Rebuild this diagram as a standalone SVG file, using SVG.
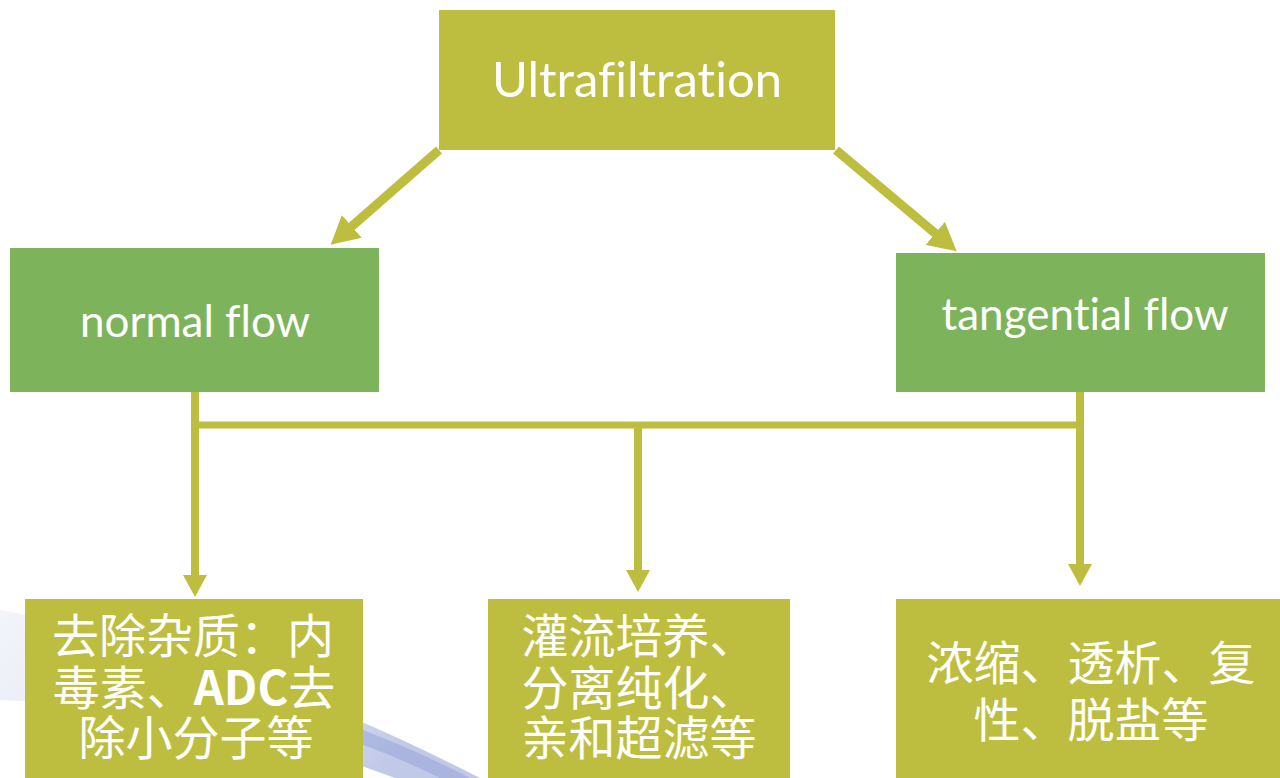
<svg xmlns="http://www.w3.org/2000/svg" width="1280" height="778" viewBox="0 0 1280 778">
  <defs>
    <style>
      .olive { fill: #BDBE3F; }
      .green { fill: #7DB35A; }
      .lbl { fill: #FFFFFF; font-family: Lato, "Open Sans", "Liberation Sans", sans-serif; text-anchor: middle; font-variant-ligatures: none; }
      .cjk { fill: #FFFFFF; font-family: "Noto Sans CJK SC", "Noto Sans", sans-serif; font-size: 47px; text-anchor: middle; }
      .conn { stroke: #BDBE3F; fill: none; stroke-linecap: butt; }
    </style>
    <marker id="ahV" viewBox="0 0 22 24" refX="1" refY="12" markerWidth="22" markerHeight="24" markerUnits="userSpaceOnUse" orient="auto">
      <path d="M0,0 L22,12 L0,24 Z" fill="#BDBE3F"/>
    </marker>
    <marker id="ahD" viewBox="0 0 28 30" refX="1" refY="15" markerWidth="28" markerHeight="30" markerUnits="userSpaceOnUse" orient="auto">
      <path d="M0,0 L28,15 L0,30 Z" fill="#BDBE3F"/>
    </marker>
    <linearGradient id="swoosh" x1="0" y1="0" x2="1" y2="0.3">
      <stop offset="0" stop-color="#E4E9F3" stop-opacity="0.5"/>
      <stop offset="0.6" stop-color="#BCC6E6" stop-opacity="0.45"/>
      <stop offset="1" stop-color="#8E9CD6" stop-opacity="0.55"/>
    </linearGradient>
  </defs>

  <rect width="1280" height="778" fill="#FFFFFF"/>

  <!-- faint background swoosh -->
  <path d="M0,610 Q230,650 480,778 L395,778 Q200,705 0,700 Z" fill="url(#swoosh)"/>
  <path d="M363,730 Q420,752 470,778 L440,778 Q400,758 363,745 Z" fill="#7F8FCF" opacity="0.35"/>

  <g id="connectors">
    <line class="conn" x1="439" y1="150" x2="351" y2="227" stroke-width="9" marker-end="url(#ahD)"/>
    <line class="conn" x1="836" y1="150" x2="936" y2="234" stroke-width="9" marker-end="url(#ahD)"/>
    <line class="conn" x1="195" y1="392" x2="195" y2="576" stroke-width="8" marker-end="url(#ahV)"/>
    <line class="conn" x1="191" y1="425" x2="1084" y2="425" stroke-width="7"/>
    <line class="conn" x1="638" y1="425" x2="638" y2="571" stroke-width="8" marker-end="url(#ahV)"/>
    <line class="conn" x1="1080" y1="392" x2="1080" y2="565" stroke-width="8" marker-end="url(#ahV)"/>
  </g>

  <g id="ultrafiltration">
    <rect class="olive" x="439" y="10" width="396" height="140"/>
    <text class="lbl" x="637" y="97" font-size="49">Ultrafiltration</text>
  </g>

  <g id="normal-flow">
    <rect class="green" x="10" y="248" width="369" height="144"/>
    <text class="lbl" x="195" y="337" font-size="44">normal flow</text>
  </g>

  <g id="tangential-flow">
    <rect class="green" x="896" y="253" width="369" height="139"/>
    <text class="lbl" x="1085" y="330" font-size="44">tangential flow</text>
  </g>

  <g id="remove-impurities">
    <rect class="olive" x="25" y="599" width="338" height="179"/>
    <text class="cjk" x="193" y="653">去除杂质：内</text>
    <text class="cjk" x="194" y="705">毒素、<tspan font-weight="bold">ADC</tspan>去</text>
    <text class="cjk" x="196" y="755">除小分子等</text>
  </g>

  <g id="perfusion">
    <rect class="olive" x="488" y="599" width="302" height="179"/>
    <text class="cjk" x="639" y="653">灌流培养、</text>
    <text class="cjk" x="639" y="705">分离纯化、</text>
    <text class="cjk" x="639" y="755">亲和超滤等</text>
  </g>

  <g id="concentration">
    <rect class="olive" x="896" y="599" width="384" height="179"/>
    <text class="cjk" x="1091" y="680">浓缩、透析、复</text>
    <text class="cjk" x="1091" y="737">性、脱盐等</text>
  </g>
</svg>
